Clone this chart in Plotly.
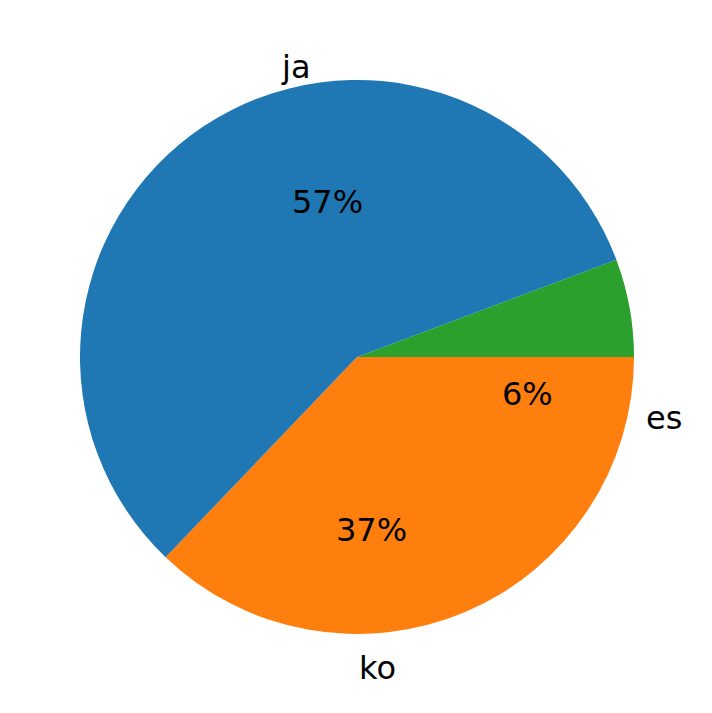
import numpy as np
import plotly.graph_objects as go

labels = ["ja", "ko", "es"]
values = [20, 13, 2]
colors = ["#1f77b4", "#ff7f0e", "#2ca02c"]

W, H = 712, 713
cx, cy, R = 356, 357, 277
dx, dy = 7, 7  # compensation for observed render offset

tot = sum(values)
fracs = [v / tot for v in values]
# draw clockwise in reversed order so visual layout is counterclockwise from 3 o'clock
rot = 90 - fracs[-1] * 360

fig = go.Figure(go.Pie(labels=labels[::-1], values=values[::-1],
                       marker=dict(colors=colors[::-1]),
                       sort=False, direction="clockwise", rotation=rot,
                       textinfo="none", hoverinfo="label+percent",
                       domain=dict(x=[(cx-R-dx)/W, (cx+R-dx)/W],
                                   y=[(cy-R+dy)/H, (cy+R+dy)/H])))

start = 0.0
ann = []
for lab, frac in zip(labels, fracs):
    mid = np.deg2rad((start + frac/2) * 360)
    start += frac
    for r, txt in [(1.1, lab), (0.6, f"{round(frac*100)}%")]:
        ann.append(dict(x=(cx + r*R*np.cos(mid))/W, y=(cy + r*R*np.sin(mid))/H,
                        xref="paper", yref="paper", text=txt, showarrow=False,
                        font=dict(size=32, color="black", family="DejaVu Sans"),
                        xanchor="center", yanchor="middle"))

fig.update_layout(width=W, height=H, margin=dict(l=0, r=0, t=0, b=0),
                  showlegend=False, annotations=ann,
                  paper_bgcolor="white", plot_bgcolor="white")
fig.write_html("out.html")
